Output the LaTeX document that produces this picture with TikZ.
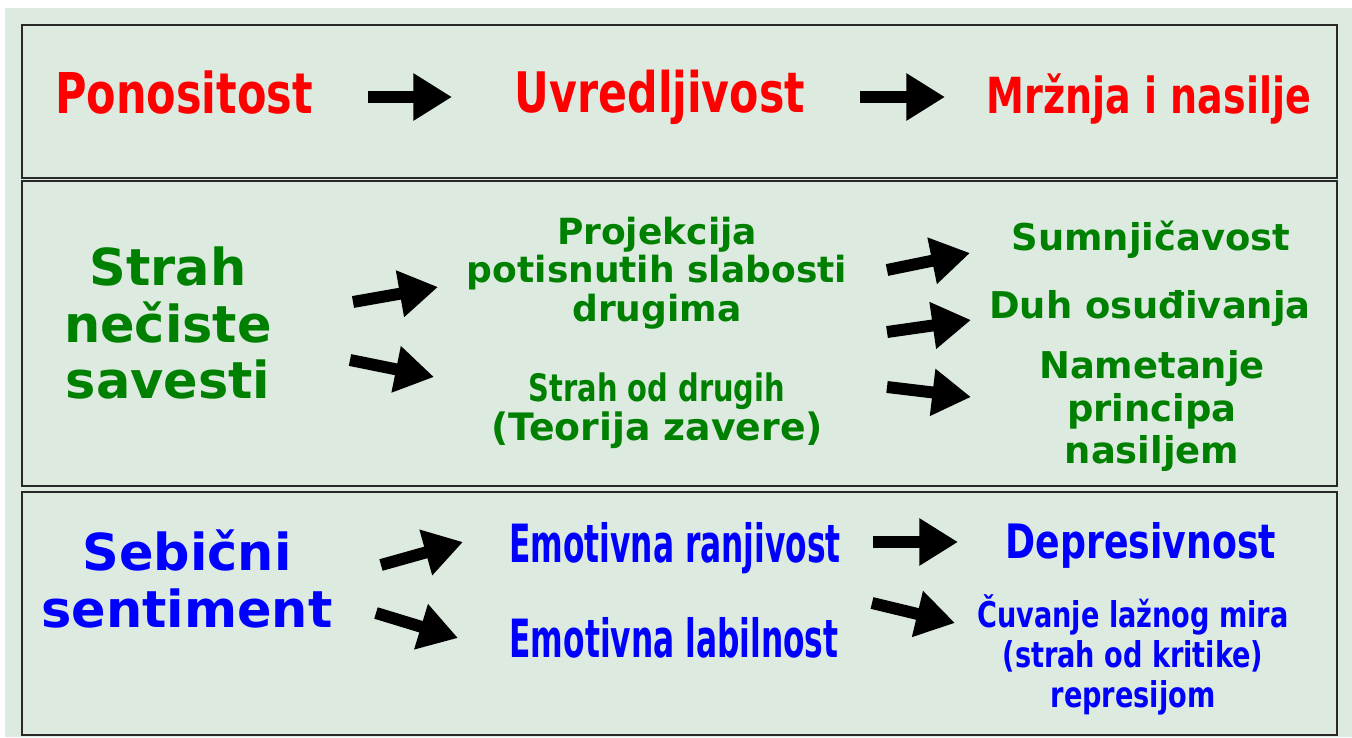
\documentclass[tikz,border=0pt]{standalone}
\usepackage{fontspec}
\newfontfamily\verd{DejaVu Sans}
\newfontfamily\cnd{DejaVu Sans Condensed}[FakeStretch=0.85]
\newfontfamily\tall{DejaVu Sans Condensed}[FakeStretch=0.66]
\usetikzlibrary{arrows.meta,calc}

\definecolor{panelbg}{RGB}{220,234,224}
\definecolor{rimgray}{RGB}{40,40,40}
\definecolor{txtred}{RGB}{255,0,0}
\definecolor{txtgreen}{RGB}{0,128,0}
\definecolor{txtblue}{RGB}{0,0,255}

\tikzset{
  panel/.style={draw=rimgray, line width=1.3pt},
  blk/.style={line width=6.8pt, -{Triangle[length=22pt,width=25.5pt]}},
  red/.style 2 args={text=txtred, font=\cnd\bfseries\fontsize{#1}{#2}\selectfont},
  grn/.style 2 args={text=txtgreen, align=center, font=\verd\bfseries\fontsize{#1}{#2}\selectfont},
  blu/.style 2 args={text=txtblue, align=center, font=\cnd\bfseries\fontsize{#1}{#2}\selectfont},
}

\begin{document}
\begin{tikzpicture}[x=0.02cm, y=-0.02cm]
	\useasboundingbox (0,0) rectangle (1352,737);
	\fill[panelbg] (5,8) rectangle (1352,737);
	\draw[panel] (22,25) rectangle (1337,178);
	\draw[panel] (22,181) rectangle (1337,486);
	\draw[panel] (22,492) rectangle (1337,735);

	% top row
	\node[red={32}{36}, anchor=base] (pon) at (184,113) {Ponositost};
	\node[red={31.8}{35}, anchor=base] (uvr) at (660,112) {Uvredljivost};
	\node[red={28.3}{32}, anchor=base] (mrz) at (1149,113) {Mržnja i nasilje};
	\draw[blk] ($(pon.base)+(184,-16)$) -- ($(uvr.base)+(-208,-15)$);
	\draw[blk] ($(uvr.base)+(200,-15)$) -- ($(mrz.base)+(-204,-16)$);

	% middle row
	\node[grn={29}{32}] (str) at (168,323) {Strah\\nečiste\\savesti};
	\node[grn={20.5}{22}] (proj) at (657,273) {Projekcija\\potisnutih slabosti\\drugima};
	\node[grn={21.5}{22}] (sod) at (657,411)
		{{\cnd\fontsize{21.5}{22}\selectfont Strah od drugih}\\(Teorija zavere)};
	\node[grn={21}{24}, anchor=base] (sum) at (1151,250) {Sumnjičavost};
	\node[grn={21}{24}, anchor=base] (duh) at (1150,318) {Duh osuđivanja};
	\node[grn={21}{24}] (nam) at (1152,411) {Nametanje\\principa\\nasiljem};
	\draw[blk] ($(str)+(185,-21)$) -- ($(proj)+(-219,14)$);
	\draw[blk] ($(str)+(182,37)$) -- ($(sod)+(-223,-34)$);
	\draw[blk] ($(proj)+(230,-3)$) -- ($(sum.base)+(-181,3)$);
	\draw[blk] ($(proj)+(230,59)$) -- ($(duh.base)+(-179,2)$);
	\draw[blk] ($(sod)+(230,-24)$) -- ($(nam)+(-181,-14)$);

	% bottom row
	\node[grn={29}{32}, text=txtblue] (seb) at (187,579) {Sebični\\sentiment};
	\node[blu={30}{34}, font=\tall\bfseries\fontsize{30}{34}\selectfont, anchor=base] (emr) at (675,562) {Emotivna ranjivost};
	\node[blu={30}{34}, font=\tall\bfseries\fontsize{30}{34}\selectfont, anchor=base] (eml) at (674,657) {Emotivna labilnost};
	\node[blu={27}{30}, anchor=base] (dep) at (1141,558) {Depresivnost};
	\node[blu={20.2}{22.7}] (cuv) at (1133,655) {Čuvanje lažnog mira\\(strah od kritike)\\represijom};
	\draw[blk] ($(seb)+(194,-14)$) -- ($(emr.base)+(-212,-20)$);
	\draw[blk] ($(seb)+(189,34)$) -- ($(eml.base)+(-216,-19)$);
	\draw[blk] ($(emr.base)+(198,-20)$) -- ($(dep.base)+(-183,-16)$);
	\draw[blk] ($(eml.base)+(198,-54)$) -- ($(cuv)+(-178,-32)$);
\end{tikzpicture}
\end{document}
